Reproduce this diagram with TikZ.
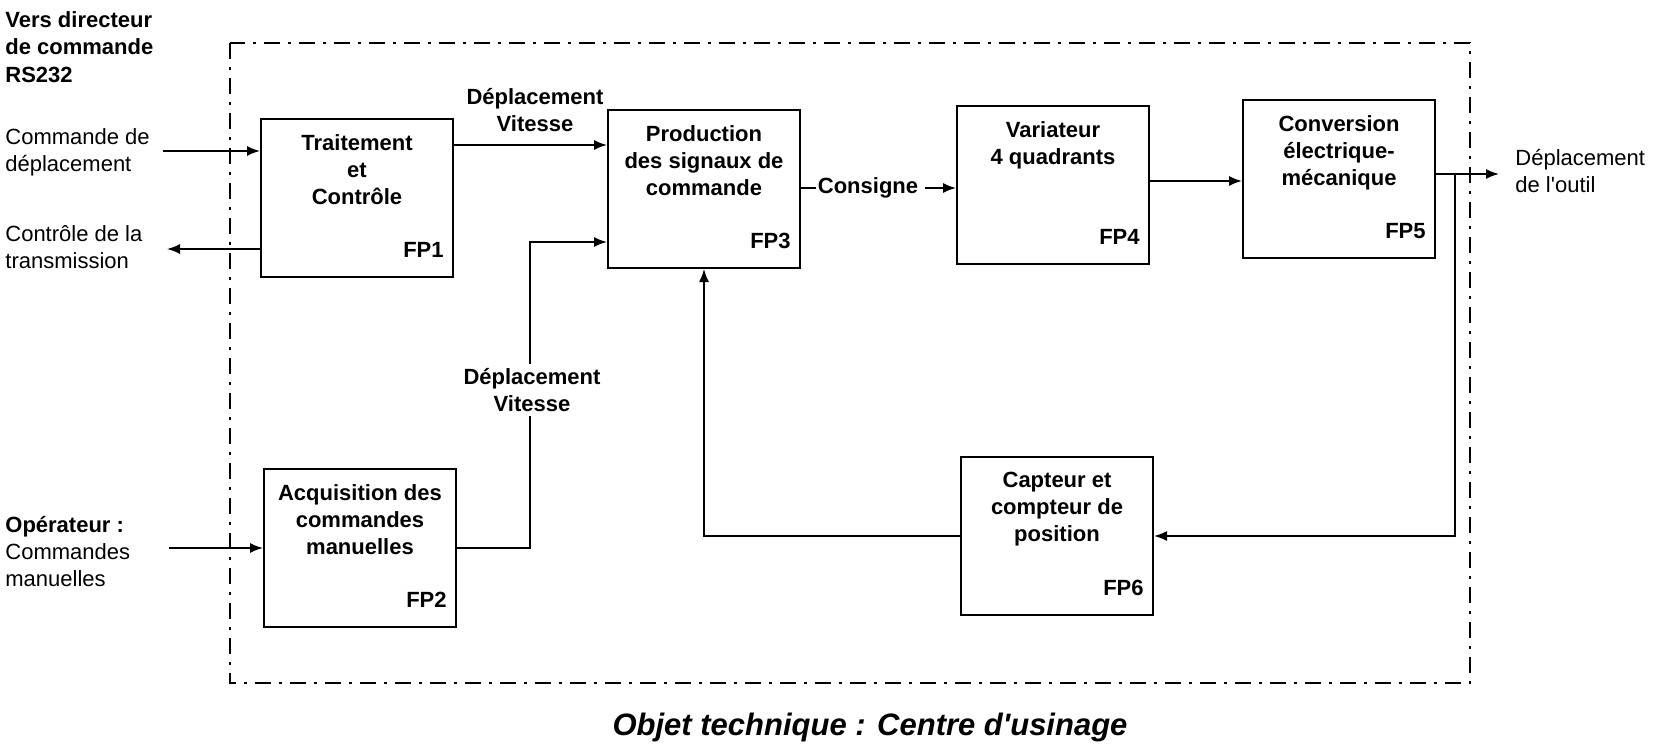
\documentclass[tikz,border=0pt]{standalone}
\usepackage{fontspec}
\setmainfont{Liberation Sans}
\usetikzlibrary{arrows.meta,positioning}
\begin{document}
\begin{tikzpicture}[x=0.5pt,y=-0.5pt,
  fbox/.style={draw,line width=1pt,minimum width=96pt,minimum height=79pt,inner sep=0pt},
  btext/.style={font=\fontsize{11}{13.5}\selectfont\bfseries,align=center,inner sep=0pt},
  fplabel/.style={font=\fontsize{11}{13}\selectfont\bfseries,inner sep=0pt,anchor=south east},
  lbl/.style={font=\fontsize{11}{13.5}\selectfont,align=left,inner sep=0pt},
  conn/.style={line width=0.8pt},
  arr/.style={conn,-{Latex[length=6.5pt,width=5pt]}},
  frame/.style={line width=0.8pt,dash pattern=on 8pt off 4pt on 1.5pt off 4pt}]

\useasboundingbox (0,0) rectangle (1653,754);

% frame
\draw[frame] (230,43) rectangle (1470,683);

% boxes
\node[fbox] (fp1) at (357,198) {};
\node[fbox] (fp3) at (704,189) {};
\node[fbox] (fp4) at (1053,185) {};
\node[fbox] (fp5) at (1339,179) {};
\node[fbox] (fp2) at (360,548) {};
\node[fbox] (fp6) at (1057,536) {};

% box texts
\node[btext,below=8pt of fp1.north] (t1) {Traitement\\et\\Contrôle};
\node[btext,below=8pt of fp3.north] (t3) {Production\\des signaux de\\commande};
\node[btext,below=8pt of fp4.north] (t4) {Variateur\\4 quadrants};
\node[btext,below=8pt of fp5.north] (t5) {Conversion\\électrique-\\mécanique};
\node[btext,below=8pt of fp2.north] (t2) {Acquisition des\\commandes\\manuelles};
\node[btext,below=8pt of fp6.north] (t6) {Capteur et\\compteur de\\position};

\node[fplabel] (l1) at ([xshift=-5pt,yshift=10pt]fp1.south east) {FP1};
\node[fplabel] (l3) at ([xshift=-5pt,yshift=10pt]fp3.south east) {FP3};
\node[fplabel] (l4) at ([xshift=-5pt,yshift=10pt]fp4.south east) {FP4};
\node[fplabel] (l5) at ([xshift=-5pt,yshift=10pt]fp5.south east) {FP5};
\node[fplabel] (l2) at ([xshift=-5pt,yshift=10pt]fp2.south east) {FP2};
\node[fplabel] (l6) at ([xshift=-5pt,yshift=10pt]fp6.south east) {FP6};

% coordinates
\coordinate (cmdin) at (163,151);
\coordinate (ctrlout) at (167,249);
\coordinate (y13) at (0,145);
\coordinate (v1) at (530,242);
\coordinate (y45) at (0,181);
\coordinate (out) at (1499,174);
\coordinate (br) at (1455,174);
\coordinate (opin) at (169,548);

% connectors
\draw[arr] (cmdin) -- (cmdin -| fp1.west);
\draw[arr] (fp1.west |- ctrlout) -- (ctrlout);
\draw[arr] (fp1.east |- y13) -- (fp3.west |- y13);
\draw[arr] (fp2.east) -| (v1) -- (fp3.west |- v1);
\node[btext,fill=white,inner sep=2pt] (dv2) at (532,390) {Déplacement\\Vitesse};
\node[btext,font=\fontsize{11}{13}\selectfont\bfseries,inner sep=1pt] (cons) at (868,188) {Consigne};
\draw[conn] (fp3.east |- cons) -- (cons.west);
\draw[arr] ([xshift=2pt]cons.east) -- (fp4.west |- cons);
\draw[arr] (fp4.east |- y45) -- (fp5.west |- y45);
\draw[arr] (fp5.east |- out) -- (out);
\draw[arr] (br) |- (fp6.east);
\draw[arr] (fp6.west) -| (fp3.south);
\draw[arr] (opin) -- (fp2.west);

% outside labels
\node[lbl,anchor=west,font=\fontsize{11}{13.75}\selectfont\bfseries] (vers) at (5,47) {Vers directeur\\de commande\\RS232};
\node[lbl,anchor=west] (cmd) at (5,152) {Commande de\\déplacement};
\node[lbl,anchor=west] (ctrl) at (5,247) {Contrôle de la\\transmission};
\node[lbl,anchor=west] (op) at (5,552) {\textbf{Opérateur :}\\Commandes\\manuelles};
\node[lbl,anchor=west] (dep) at (1515,171) {Déplacement\\de l\textquotesingle outil};
\node[btext] (dv1) at (535,110) {Déplacement\\Vitesse};

% caption
\node[font=\fontsize{15.5}{18}\selectfont\bfseries\itshape,inner sep=0pt] (cap) at (870,727) {Objet technique : Centre d\textquotesingle usinage};
\end{tikzpicture}
\end{document}
